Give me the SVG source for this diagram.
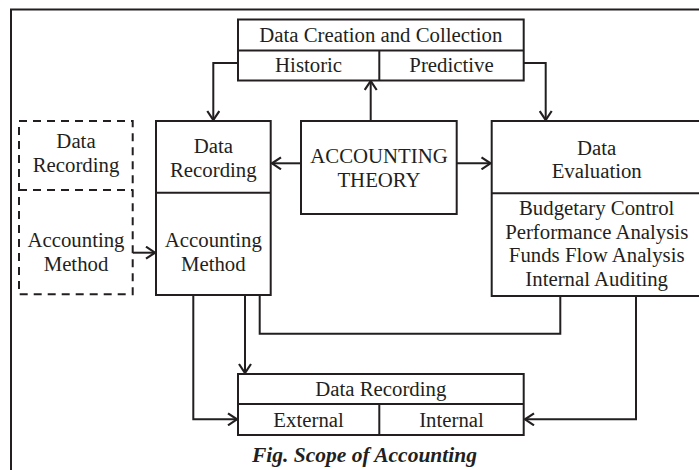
<svg xmlns="http://www.w3.org/2000/svg" width="699" height="470" viewBox="0 0 699 470">
<defs>
<marker id="arr" markerUnits="userSpaceOnUse" markerWidth="14" markerHeight="14" viewBox="0 0 14 14" refX="11" refY="7" orient="auto">
<path d="M2,1 L11,7 L2,13" fill="none" stroke="#231f20" stroke-width="2.2"/>
</marker>
<style>
.b{fill:#fff;stroke:#231f20;stroke-width:2}
.d{fill:#fff;stroke:#231f20;stroke-width:2;stroke-dasharray:8,6}
.l{fill:none;stroke:#231f20;stroke-width:2}
.c{fill:none;stroke:#231f20;stroke-width:2;marker-end:url(#arr)}
text{font-family:"Liberation Serif","Times New Roman",serif;font-size:20.8px;fill:#231f20;text-anchor:middle}
.cap{font-weight:bold;font-style:italic;font-size:21.5px}
</style>
</defs>
<rect x="11" y="9.5" width="700" height="480" class="l" fill="#fff"/>
<g id="connectors">
<path class="c" d="M238,63 H213.3 V120"/>
<path class="c" d="M524,63 H545.7 V120"/>
<path class="c" d="M370.7,121 V81"/>
<path class="c" d="M301,163.3 H272"/>
<path class="c" d="M457,163.3 H490.5"/>
<path class="c" d="M133,252.7 H155"/>
<path class="c" d="M193.3,295 V419.3 H237"/>
<path class="c" d="M245,295 V373"/>
<path class="l" d="M259.7,295 V333.7 H560.3 V296"/>
<path class="c" d="M636,296 V419.3 H525"/>
</g>
<g id="data-creation">
<rect class="b" x="238" y="19.5" width="285.7" height="61"/>
<line class="l" x1="238" y1="50.5" x2="523.7" y2="50.5"/>
<line class="l" x1="379.3" y1="50.5" x2="379.3" y2="80.5"/>
<text x="380.8" y="41.7">Data Creation and Collection</text>
<text x="308.6" y="72.3">Historic</text>
<text x="451.5" y="72.3">Predictive</text>
</g>
<g id="dashed-box">
<rect class="d" x="19" y="121" width="113.7" height="173.3"/>
<line class="d" x1="19" y1="190" x2="132.7" y2="190"/>
<text x="76" y="148.3">Data</text>
<text x="76" y="171.7">Recording</text>
<text x="76" y="247.3">Accounting</text>
<text x="76" y="270.7">Method</text>
</g>
<g id="data-recording">
<rect class="b" x="156" y="121" width="114.7" height="174"/>
<line class="l" x1="156" y1="192.7" x2="270.7" y2="192.7"/>
<text x="213.3" y="153.3">Data</text>
<text x="213.3" y="176.7">Recording</text>
<text x="213.3" y="247.3">Accounting</text>
<text x="213.3" y="270.7">Method</text>
</g>
<g id="accounting-theory">
<rect class="b" x="301" y="121" width="155.7" height="93"/>
<text x="379" y="163.3">ACCOUNTING</text>
<text x="379" y="186.7">THEORY</text>
</g>
<g id="data-evaluation">
<rect class="b" x="491.7" y="121" width="210.6" height="175"/>
<line class="l" x1="491.7" y1="193.3" x2="702.3" y2="193.3"/>
<text x="596.7" y="155">Data</text>
<text x="596.7" y="178.3">Evaluation</text>
<text x="596.7" y="215">Budgetary Control</text>
<text x="596.7" y="238.5">Performance Analysis</text>
<text x="596.7" y="262">Funds Flow Analysis</text>
<text x="596.7" y="285.5">Internal Auditing</text>
</g>
<g id="data-recording-bottom">
<rect class="b" x="238" y="374" width="285.7" height="61"/>
<line class="l" x1="238" y1="404" x2="523.7" y2="404"/>
<line class="l" x1="379.3" y1="404" x2="379.3" y2="435"/>
<text x="380.8" y="395.7">Data Recording</text>
<text x="308.6" y="426.7">External</text>
<text x="451.5" y="426.7">Internal</text>
</g>
<text class="cap" x="364.5" y="462">Fig. Scope of Accounting</text>
</svg>
